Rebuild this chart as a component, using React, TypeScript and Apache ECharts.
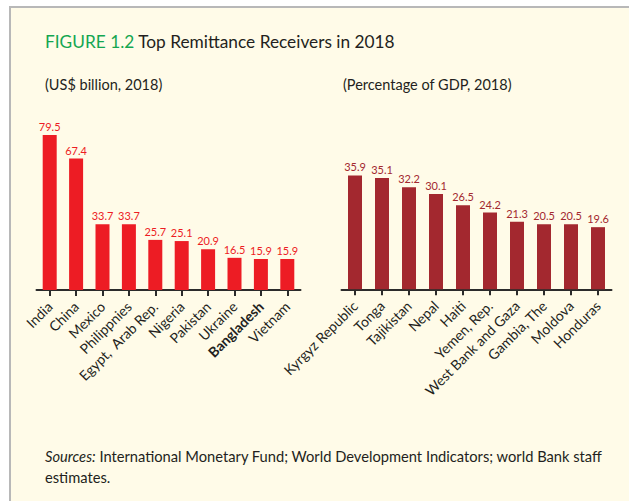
import React, { useEffect, useRef } from "react";
import * as echarts from "echarts";

const leftCategories = ["India", "China", "Mexico", "Philippnies", "Egypt,  Arab Rep.", "Nigeria", "Pakistan", "Ukraine", "Bangladesh", "Vietnam"];
const leftValues = [79.5, 67.4, 33.7, 33.7, 25.7, 25.1, 20.9, 16.5, 15.9, 15.9];
const rightCategories = ["Kyrgyz Republic", "Tonga", "Tajikistan", "Nepal", "Haiti", "Yemen, Rep.", "West Bank and Gaza", "Gambia, The", "Moldova", "Honduras"];
const rightValues = [35.9, 35.1, 32.2, 30.1, 26.5, 24.2, 21.3, 20.5, 20.5, 19.6];
const highlighted = "Bangladesh";

const FONT = "Lato, 'Open Sans', sans-serif";
const LEFT_COLOR = "#ed1c24";
const RIGHT_COLOR = "#a3282f";
const AXIS_COLOR = "#2b2b2b";
const TEXT_COLOR = "#231f20";

export default function App() {
  const ref = useRef<HTMLDivElement>(null);
  useEffect(() => {
    if (!ref.current) return;
    const chart = echarts.init(ref.current, undefined, { renderer: "svg" });
    const xAxisCommon = {
      type: "category" as const,
      axisLine: { show: true, lineStyle: { color: AXIS_COLOR, width: 2 } },
      axisTick: { show: true, alignWithLabel: true, length: 6, lineStyle: { color: AXIS_COLOR, width: 2 } },
      axisLabel: { rotate: 45, interval: 0, margin: 14, fontSize: 14, fontFamily: FONT, color: TEXT_COLOR },
      splitLine: { show: false },
    };
    chart.setOption({
      animation: false,
      backgroundColor: "transparent",
      textStyle: { fontFamily: FONT },
      grid: [
        { left: 36.5, width: 264, top: 134, height: 156 },
        { left: 341.5, width: 270, top: 162.5, height: 126.8 },
      ],
      xAxis: [
        {
          ...xAxisCommon,
          gridIndex: 0,
          data: leftCategories.map((c) =>
            c === highlighted ? { value: c, textStyle: { fontWeight: "bold" } } : c
          ),
        },
        { ...xAxisCommon, gridIndex: 1, data: rightCategories },
      ],
      yAxis: [
        { type: "value", gridIndex: 0, min: 0, max: 80, show: false },
        { type: "value", gridIndex: 1, min: 0, max: 40, show: false },
      ],
      series: [
        {
          type: "bar",
          xAxisIndex: 0,
          yAxisIndex: 0,
          data: leftValues,
          barWidth: 14,
          itemStyle: { color: LEFT_COLOR },
          label: { show: true, position: "top", distance: 3, fontSize: 11, fontFamily: FONT, color: LEFT_COLOR, formatter: (p: any) => p.value.toFixed(1) },
        },
        {
          type: "bar",
          xAxisIndex: 1,
          yAxisIndex: 1,
          data: rightValues,
          barWidth: 14,
          itemStyle: { color: RIGHT_COLOR },
          label: { show: true, position: "top", distance: 3, fontSize: 11, fontFamily: FONT, color: RIGHT_COLOR, formatter: (p: any) => p.value.toFixed(1) },
        },
      ],
      graphic: [
        {
          type: "text",
          left: 45,
          top: 33,
          style: {
            text: "{g|FIGURE 1.2} Top Remittance Receivers in 2018",
            fontFamily: FONT,
            fontSize: 17.3,
            fill: TEXT_COLOR,
            rich: { g: { fill: "#14a651", fontSize: 17.3, fontFamily: FONT } },
          },
        },
        {
          type: "text",
          left: 45,
          top: 77,
          style: { text: "(US$ billion, 2018)", fontFamily: FONT, fontSize: 14.5, fill: TEXT_COLOR },
        },
        {
          type: "text",
          left: 343,
          top: 77,
          style: { text: "(Percentage of GDP, 2018)", fontFamily: FONT, fontSize: 14.5, fill: TEXT_COLOR },
        },
        {
          type: "text",
          left: 45,
          top: 445,
          style: {
            text: "{i|Sources:} International Monetary Fund; World Development Indicators; world Bank staff\nestimates.",
            fontFamily: FONT,
            fontSize: 14.7,
            lineHeight: 21,
            fill: TEXT_COLOR,
            rich: { i: { fontStyle: "italic", fontFamily: FONT, fontSize: 14.7, fill: TEXT_COLOR, lineHeight: 21 } },
          },
        },
      ],
    });
    return () => chart.dispose();
  }, []);
  return (
    <div style={{ position: "fixed", left: 0, top: 0, width: 629, height: 501, background: "#ffffff" }}>
      <div
        style={{
          position: "absolute",
          left: 9,
          top: 6,
          width: 620,
          height: 495,
          boxSizing: "border-box",
          background: "#fffbe8",
          borderTop: "2px solid #b8b8b8",
          borderLeft: "2px solid #b8b8b8",
        }}
      />
      <div ref={ref} style={{ position: "absolute", left: 0, top: 0, width: 629, height: 501 }} />
    </div>
  );
}
